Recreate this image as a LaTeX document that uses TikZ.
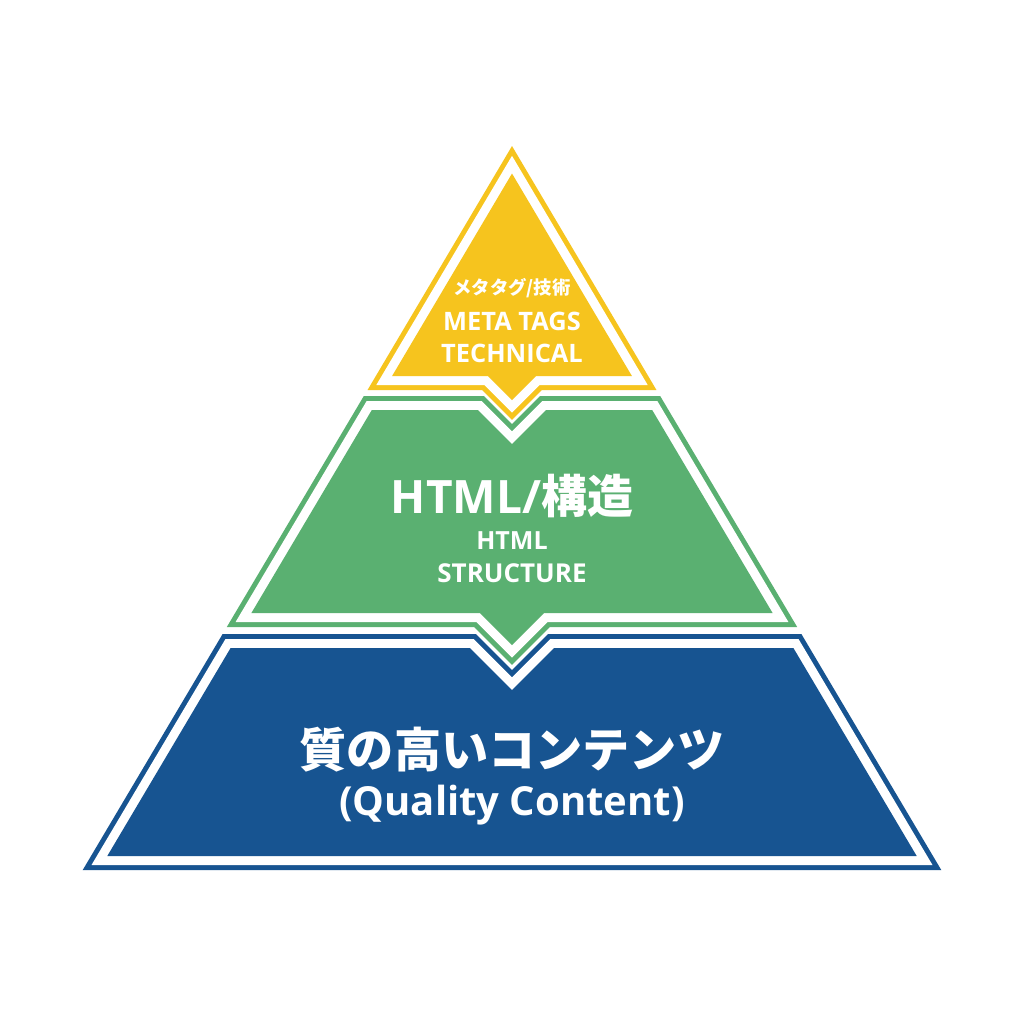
\documentclass[tikz,border=0pt]{standalone}
\usepackage{fontspec}
\setmainfont{Open Sans}
\newfontfamily\cjk{Noto Sans CJK JP}
\definecolor{ylw}{HTML}{F6C41E}
\definecolor{grn}{HTML}{5AB071}
\definecolor{blu}{HTML}{175491}
\tikzset{
  layerline/.style={draw=#1, line width=14pt, line join=miter},
  layergap/.style={draw=white, line width=9pt, line join=miter},
  layerfill/.style={fill=#1},
  lbl/.style={text=white, inner sep=0pt, font=\bfseries},
  yshape/.style={insert path={(512,173.5) -- (631.9,376) -- (536,376) -- (512,400) -- (488,376) -- (392.1,376) -- cycle}},
  gshape/.style={insert path={(371.8,410) -- (478,410) -- (512,444) -- (546,410) -- (652.2,410) -- (772.6,613) -- (544,613) -- (512,645) -- (480,613) -- (251.4,613) -- cycle}},
  bshape/.style={insert path={(230.6,648) -- (470,648) -- (512,690) -- (554,648) -- (793.4,648) -- (916.7,856) -- (107.3,856) -- cycle}},
}
\begin{document}
\begin{tikzpicture}[x=0.5pt,y=-0.5pt]
\fill[white] (0,0) rectangle (1024,1024);
\useasboundingbox (0,0) rectangle (1024,1024);
% blue layer
\path[layerline=blu, bshape];
\path[layergap, bshape];
\path[layerfill=blu, bshape];
% green layer
\path[layerline=grn, gshape];
\path[layergap, gshape];
\path[layerfill=grn, gshape];
% yellow layer
\path[layerline=ylw, yshape];
\path[layergap, yshape];
\path[layerfill=ylw, yshape];
% labels
\node[lbl, anchor=center] (ja1) at (512,288.5) {\cjk\bfseries\fontsize{9.2pt}{11pt}\selectfont メタタグ/技術};
\node[lbl, anchor=base] (meta) at (512,330) {\fontsize{12.7pt}{15pt}\selectfont META TAGS};
\node[lbl, anchor=base] (tech) at (512,362) {\fontsize{12.7pt}{15pt}\selectfont TECHNICAL};
\node[lbl, anchor=base] (html) at (512,513) {\fontsize{23pt}{28pt}\selectfont HTML/{\cjk\bfseries 構造}};
\node[lbl, anchor=base] (html2) at (512,549) {\fontsize{12.5pt}{14pt}\selectfont HTML};
\node[lbl, anchor=base] (struct) at (512,582) {\fontsize{13pt}{14pt}\selectfont STRUCTURE};
\node[lbl, anchor=center] (qja) at (512,750) {\cjk\bfseries\fontsize{23.6pt}{28pt}\selectfont 質の高いコンテンツ};
\node[lbl, anchor=base] (qen) at (512,815) {\fontsize{20pt}{24pt}\selectfont (Quality Content)};
\end{tikzpicture}
\end{document}
